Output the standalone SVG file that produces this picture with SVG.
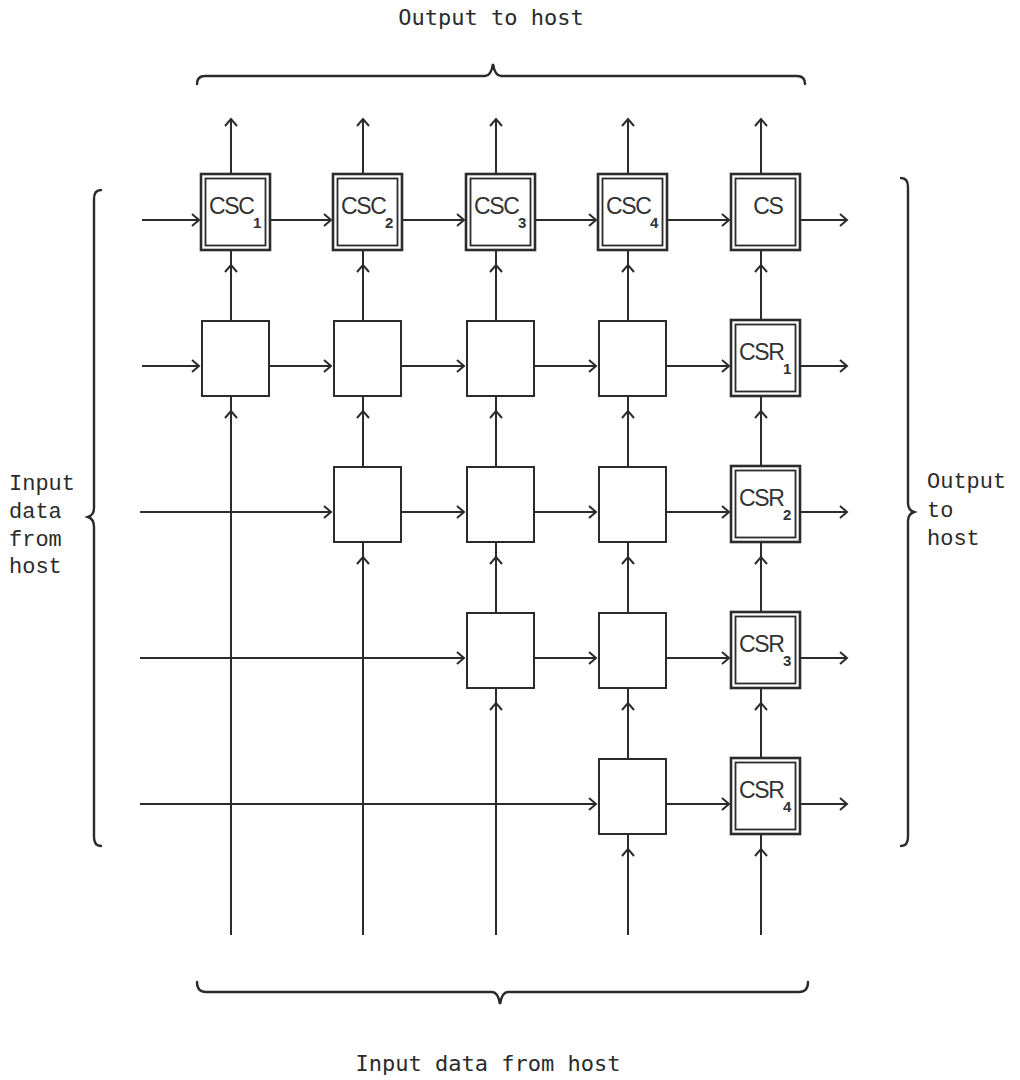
<svg xmlns="http://www.w3.org/2000/svg" width="1020" height="1080" viewBox="0 0 1020 1080">
<style>
.ln{fill:none;stroke:#2b2b2b;stroke-width:2}
.br{fill:none;stroke:#2b2b2b;stroke-width:2.4;stroke-linecap:round}
.bo{fill:#fff;stroke:#2b2b2b;stroke-width:2.6}
.bi{fill:none;stroke:#2b2b2b;stroke-width:1.8}
.pb{fill:#fff;stroke:#2b2b2b;stroke-width:2}
.lab{font-family:"Liberation Sans",Arial,sans-serif;font-size:23px;letter-spacing:-1.3px;fill:#333}
.sub{font-family:"Liberation Sans",Arial,sans-serif;font-size:15px;font-weight:bold;fill:#333}
.mono{font-family:"Liberation Mono","Courier New",monospace;font-size:22px;fill:#2b2b2b}
.tt{font-family:"DejaVu Sans Mono","Liberation Mono",monospace;font-size:22px;fill:#2b2b2b}
.v{marker-mid:url(#ah)}
.e{marker-end:url(#ah)}
</style>
<defs>
<marker id="ah" viewBox="-9 -8 11 16" markerWidth="11" markerHeight="16" refX="0" refY="0" orient="auto" markerUnits="userSpaceOnUse">
<path d="M-7,-6 L0,0 L-7,6" fill="none" stroke="#2b2b2b" stroke-width="2"/>
</marker>
</defs>
<rect width="1020" height="1080" fill="#fff"/>

<g id="connectors">
<!-- column 1 (x=231) -->
<path class="ln v" d="M231,935 L231,411 L231,396"/>
<path class="ln v" d="M231,320 L231,265 L231,250"/>
<path class="ln e" d="M231,174 L231,119"/>
<!-- column 2 (x=363) -->
<path class="ln v" d="M363,935 L363,557 L363,542"/>
<path class="ln v" d="M363,466 L363,411 L363,396"/>
<path class="ln v" d="M363,320 L363,265 L363,250"/>
<path class="ln e" d="M363,174 L363,119"/>
<!-- column 3 (x=496) -->
<path class="ln v" d="M496,935 L496,703 L496,688"/>
<path class="ln v" d="M496,612 L496,557 L496,542"/>
<path class="ln v" d="M496,466 L496,411 L496,396"/>
<path class="ln v" d="M496,320 L496,265 L496,250"/>
<path class="ln e" d="M496,174 L496,119"/>
<!-- column 4 (x=628) -->
<path class="ln v" d="M628,935 L628,849 L628,834"/>
<path class="ln v" d="M628,758 L628,703 L628,688"/>
<path class="ln v" d="M628,612 L628,557 L628,542"/>
<path class="ln v" d="M628,466 L628,411 L628,396"/>
<path class="ln v" d="M628,320 L628,265 L628,250"/>
<path class="ln e" d="M628,174 L628,119"/>
<!-- column 5 (x=761) -->
<path class="ln v" d="M761,935 L761,849 L761,834"/>
<path class="ln v" d="M761,758 L761,703 L761,688"/>
<path class="ln v" d="M761,612 L761,557 L761,542"/>
<path class="ln v" d="M761,466 L761,411 L761,396"/>
<path class="ln v" d="M761,320 L761,265 L761,250"/>
<path class="ln e" d="M761,174 L761,119"/>
<!-- row 1 (y=220) -->
<path class="ln e" d="M142,220 L199,220"/>
<path class="ln e" d="M270,220 L331,220"/>
<path class="ln e" d="M402,220 L464,220"/>
<path class="ln e" d="M535,220 L596,220"/>
<path class="ln e" d="M667,220 L729,220"/>
<path class="ln e" d="M800,220 L847,220"/>
<!-- row 2 (y=366) -->
<path class="ln e" d="M142,366 L199,366"/>
<path class="ln e" d="M270,366 L331,366"/>
<path class="ln e" d="M402,366 L464,366"/>
<path class="ln e" d="M535,366 L596,366"/>
<path class="ln e" d="M667,366 L729,366"/>
<path class="ln e" d="M800,366 L847,366"/>
<!-- row 3 (y=512) -->
<path class="ln e" d="M140,512 L331,512"/>
<path class="ln e" d="M402,512 L464,512"/>
<path class="ln e" d="M535,512 L596,512"/>
<path class="ln e" d="M667,512 L729,512"/>
<path class="ln e" d="M800,512 L847,512"/>
<!-- row 4 (y=658) -->
<path class="ln e" d="M140,658 L464,658"/>
<path class="ln e" d="M535,658 L596,658"/>
<path class="ln e" d="M667,658 L729,658"/>
<path class="ln e" d="M800,658 L847,658"/>
<!-- row 5 (y=804) -->
<path class="ln e" d="M140,804 L596,804"/>
<path class="ln e" d="M667,804 L729,804"/>
<path class="ln e" d="M800,804 L847,804"/>
</g>

<!-- row 1 double boxes -->
<g id="csc1"><rect class="bo" x="201" y="174" width="69" height="76"/><rect class="bi" x="205.5" y="178.5" width="60" height="67"/><text class="lab" x="209" y="214">CSC</text><text class="sub" x="253" y="228">1</text></g>
<g id="csc2"><rect class="bo" x="333" y="174" width="69" height="76"/><rect class="bi" x="337.5" y="178.5" width="60" height="67"/><text class="lab" x="341" y="214">CSC</text><text class="sub" x="385" y="228">2</text></g>
<g id="csc3"><rect class="bo" x="466" y="174" width="69" height="76"/><rect class="bi" x="470.5" y="178.5" width="60" height="67"/><text class="lab" x="474" y="214">CSC</text><text class="sub" x="518" y="228">3</text></g>
<g id="csc4"><rect class="bo" x="598" y="174" width="69" height="76"/><rect class="bi" x="602.5" y="178.5" width="60" height="67"/><text class="lab" x="606" y="214">CSC</text><text class="sub" x="650" y="228">4</text></g>
<g id="cs"><rect class="bo" x="731" y="174" width="69" height="76"/><rect class="bi" x="735.5" y="178.5" width="60" height="67"/><text class="lab" x="768" y="214" text-anchor="middle">CS</text></g>

<!-- column 5 CSR double boxes -->
<g id="csr1"><rect class="bo" x="731" y="320" width="69" height="76"/><rect class="bi" x="735.5" y="324.5" width="60" height="67"/><text class="lab" x="739" y="360">CSR</text><text class="sub" x="783" y="374">1</text></g>
<g id="csr2"><rect class="bo" x="731" y="466" width="69" height="76"/><rect class="bi" x="735.5" y="470.5" width="60" height="67"/><text class="lab" x="739" y="506">CSR</text><text class="sub" x="783" y="520">2</text></g>
<g id="csr3"><rect class="bo" x="731" y="612" width="69" height="76"/><rect class="bi" x="735.5" y="616.5" width="60" height="67"/><text class="lab" x="739" y="652">CSR</text><text class="sub" x="783" y="666">3</text></g>
<g id="csr4"><rect class="bo" x="731" y="758" width="69" height="76"/><rect class="bi" x="735.5" y="762.5" width="60" height="67"/><text class="lab" x="739" y="798">CSR</text><text class="sub" x="783" y="812">4</text></g>

<!-- plain processing boxes -->
<g id="p21"><rect class="pb" x="202" y="321" width="67" height="75"/></g>
<g id="p22"><rect class="pb" x="334" y="321" width="67" height="75"/></g>
<g id="p23"><rect class="pb" x="467" y="321" width="67" height="75"/></g>
<g id="p24"><rect class="pb" x="599" y="321" width="67" height="75"/></g>
<g id="p32"><rect class="pb" x="334" y="467" width="67" height="75"/></g>
<g id="p33"><rect class="pb" x="467" y="467" width="67" height="75"/></g>
<g id="p34"><rect class="pb" x="599" y="467" width="67" height="75"/></g>
<g id="p43"><rect class="pb" x="467" y="613" width="67" height="75"/></g>
<g id="p44"><rect class="pb" x="599" y="613" width="67" height="75"/></g>
<g id="p54"><rect class="pb" x="599" y="759" width="67" height="75"/></g>

<!-- braces -->
<g id="brace-top">
<path class="br" d="M197,84 Q197,76 205,76 L485,76 Q491,76 493,64 Q495,76 501,76 L797,76 Q805,76 805,84"/>
<text class="tt" x="491" y="25" text-anchor="middle">Output to host</text>
</g>
<g id="brace-bottom">
<path class="br" d="M197,982 Q197,992 206,992 L492,992 Q498,992 500,1004 Q502,992 508,992 L799,992 Q808,992 808,982"/>
<text class="tt" x="488" y="1071" text-anchor="middle">Input data from host</text>
</g>
<g id="brace-left">
<path class="br" d="M101,190 Q94,190 94,199 L94,508 Q94,515 88,517 Q94,519 94,527 L94,837 Q94,846 101,846"/>
<text class="mono"><tspan x="9" y="490">Input</tspan><tspan x="9" y="518">data</tspan><tspan x="9" y="546">from</tspan><tspan x="9" y="573">host</tspan></text>
</g>
<g id="brace-right">
<path class="br" d="M901,178 Q908,178 908,187 L908,503 Q908,510 914,512 Q908,514 908,521 L908,837 Q908,846 901,846"/>
<text class="mono"><tspan x="927" y="488">Output</tspan><tspan x="927" y="517">to</tspan><tspan x="927" y="545">host</tspan></text>
</g>
</svg>
